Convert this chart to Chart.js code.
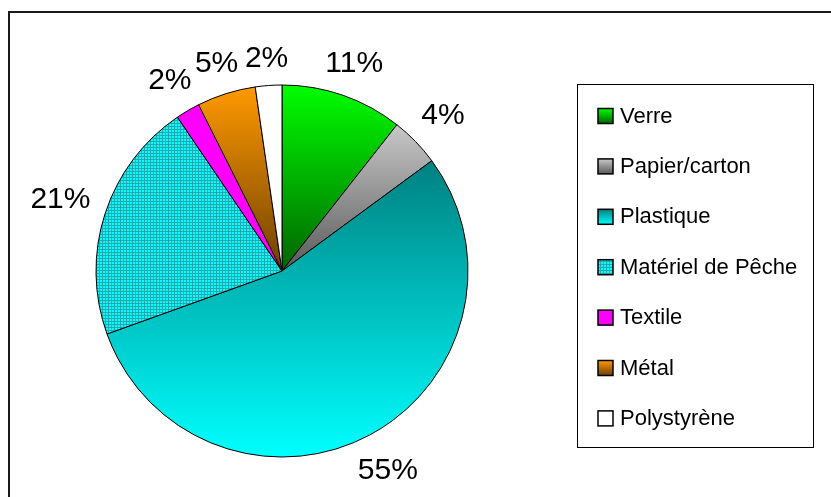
<!DOCTYPE html>
<html lang="fr">
<head>
    <meta charset="UTF-8">
    <title>Déchets</title>
    <script src="https://cdn.jsdelivr.net/npm/chart.js"></script>
    <style>
        body {
            margin: 0;
            padding: 0;
            background: #fff;
            overflow: hidden;
            width: 831px;
            height: 497px;
            position: relative;
        }
        #frame {
            position: absolute;
            left: 8px;
            top: 11px;
            width: 900px;
            height: 600px;
            border: 2px solid #1a1a1a;
        }
        #pieChart {
            position: absolute;
            left: 0;
            top: 0;
        }
    </style>
</head>
<body>
    <div id="frame"></div>
    <canvas id="pieChart" width="831" height="497"></canvas>

    <script>
        const categories = ['Verre', 'Papier/carton', 'Plastique', 'Matériel de Pêche', 'Textile', 'Métal', 'Polystyrène'];
        const values = [10.6, 4.3, 54.6, 21.0, 2.1, 5.1, 2.3];

        // colour at top / bottom of each slice (Excel style vertical gradient)
        const topColors = ['#00ff00', '#c8c8c8', '#008080', '#00ffff', '#ff00ff', '#ff9900', '#ffffff'];
        const bottomColors = ['#006400', '#5a5a5a', '#00ffff', '#00ffff', '#ff00ff', '#6e4000', '#ffffff'];
        const HATCHED = 3;

        const FONT = "'Liberation Sans', Arial, sans-serif";
        const total = values.reduce((a, b) => a + b, 0);

        let hatch = null;
        function getHatch(ctx) {
            if (hatch) return hatch;
            const c = document.createElement('canvas');
            c.width = 3;
            c.height = 3;
            const g = c.getContext('2d');
            g.fillStyle = '#00ffff';
            g.fillRect(0, 0, 3, 3);
            g.fillStyle = '#22a8b0';
            g.fillRect(0, 0, 3, 1);
            g.fillRect(0, 0, 1, 3);
            hatch = ctx.createPattern(c, 'repeat');
            return hatch;
        }

        function fillFor(ctx, i, y0, y1) {
            if (i === HATCHED) return getHatch(ctx);
            if (topColors[i] === bottomColors[i]) return topColors[i];
            const grad = ctx.createLinearGradient(0, y0, 0, y1);
            grad.addColorStop(0, topColors[i]);
            grad.addColorStop(1, bottomColors[i]);
            return grad;
        }

        function sliceFill(context) {
            const chart = context.chart;
            const area = chart.chartArea;
            const i = context.dataIndex;
            if (!area) return topColors[i];
            const cx = (area.left + area.right) / 2;
            const cy = (area.top + area.bottom) / 2;
            const r = Math.min(area.width, area.height) / 2;
            let before = 0;
            for (let k = 0; k < i; k++) before += values[k];
            const a0 = -Math.PI / 2 + 2 * Math.PI * before / total;
            const a1 = a0 + 2 * Math.PI * values[i] / total;
            let minY = cy, maxY = cy;
            for (let s = 0; s <= 40; s++) {
                const a = a0 + (a1 - a0) * s / 40;
                const y = cy + r * Math.sin(a);
                minY = Math.min(minY, y);
                maxY = Math.max(maxY, y);
            }
            return fillFor(chart.ctx, i, minY, maxY);
        }

        const percentLabels = {
            id: 'percentLabels',
            afterDatasetsDraw(chart) {
                const ctx = chart.ctx;
                const meta = chart.getDatasetMeta(0);
                ctx.save();
                ctx.font = '30px ' + FONT;
                ctx.fillStyle = '#000';
                ctx.textAlign = 'center';
                ctx.textBaseline = 'middle';
                meta.data.forEach((arc, i) => {
                    const p = arc.getProps(['x', 'y', 'startAngle', 'endAngle', 'outerRadius'], true);
                    const mid = (p.startAngle + p.endAngle) / 2;
                    const dx = Math.cos(mid), dy = Math.sin(mid);
                    const text = Math.round(values[i] / total * 100) + '%';
                    const w = ctx.measureText(text).width;
                    const dist = p.outerRadius + 15 + Math.abs(dx) * w / 2 + Math.abs(dy) * 11;
                    ctx.fillText(text, p.x + dx * dist, p.y + dy * dist + 1);
                });
                ctx.restore();
            }
        };

        const boxLegend = {
            id: 'boxLegend',
            afterDraw(chart) {
                const ctx = chart.ctx;
                ctx.save();
                ctx.strokeStyle = '#000';
                ctx.lineWidth = 1;
                ctx.strokeRect(577.5, 84.5, 236, 363);
                ctx.font = '22px ' + FONT;
                ctx.textBaseline = 'middle';
                categories.forEach((name, i) => {
                    const yc = 115.5 + i * 50.4;
                    ctx.fillStyle = fillFor(ctx, i, yc - 7, yc + 8);
                    ctx.fillRect(598, yc - 7, 15, 15);
                    ctx.strokeStyle = '#000';
                    ctx.lineWidth = 1.5;
                    ctx.strokeRect(598, yc - 7, 15, 15);
                    ctx.fillStyle = '#000';
                    ctx.fillText(name, 620, yc + 1);
                });
                ctx.restore();
            }
        };

        document.addEventListener('DOMContentLoaded', () => {
            const ctx = document.getElementById('pieChart').getContext('2d');
            new Chart(ctx, {
                type: 'pie',
                data: {
                    labels: categories,
                    datasets: [{
                        data: values,
                        backgroundColor: sliceFill,
                        borderColor: '#000',
                        borderWidth: 1,
                        radius: 186
                    }]
                },
                options: {
                    responsive: false,
                    animation: false,
                    events: [],
                    layout: {
                        padding: { left: 96, right: 363, top: 85, bottom: 40 }
                    },
                    plugins: {
                        legend: { display: false },
                        tooltip: { enabled: false }
                    }
                },
                plugins: [percentLabels, boxLegend]
            });
        });
    </script>
</body>
</html>
